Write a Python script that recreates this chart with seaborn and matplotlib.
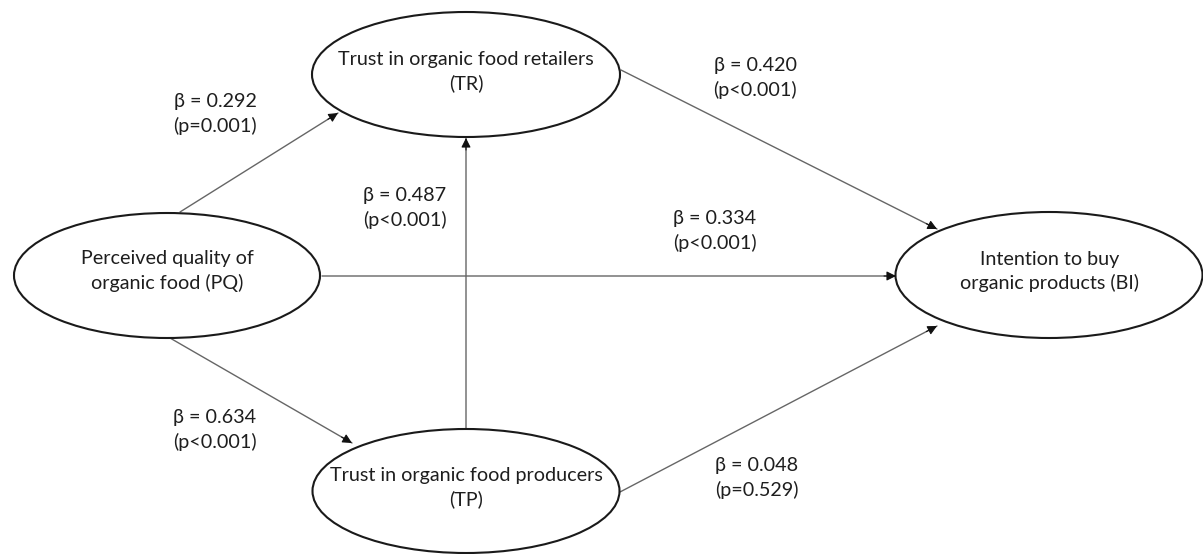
import matplotlib
matplotlib.use('Agg')
import matplotlib.pyplot as plt
from matplotlib.patches import Ellipse, FancyArrowPatch
import seaborn as sns

# node labels
node_ids = ['TR', 'PQ', 'BI', 'TP']
node_labels = ['Trust in organic food retailers\n(TR)',
               'Perceived quality of\norganic food (PQ)',
               'Intention to buy\norganic products (BI)',
               'Trust in organic food producers\n(TP)']

# paths: source -> target, beta, p-value text
edge_src = ['PQ', 'TP', 'PQ', 'TR', 'PQ', 'TP']
edge_dst = ['TR', 'TR', 'BI', 'BI', 'TP', 'BI']
betas = ['0.292', '0.487', '0.334', '0.420', '0.634', '0.048']
pvals = ['p=0.001', 'p<0.001', 'p<0.001', 'p<0.001', 'p<0.001', 'p=0.529']

# layout (pixel coordinates)
node_xy = {'TR': (466, 74.5), 'PQ': (167, 275.5), 'BI': (1049, 275), 'TP': (466, 491)}
node_wh = {'TR': (308, 125), 'PQ': (306, 125), 'BI': (307, 126), 'TP': (307, 124)}
text_xy = {'TR': (466, 71.5), 'PQ': (167, 271), 'BI': (1050, 271.5), 'TP': (466, 487.5)}
edge_start = [(180, 212), (466, 430), (322, 276), (621, 70), (170, 338), (620, 492)]
edge_end = [(338, 113), (466, 138), (896, 276), (937, 229), (352, 443), (937, 326)]
label_xy = [(215, 114), (405, 208), (715, 231), (755, 78), (215, 430), (757, 478)]

sns.set_theme(style='white')
plt.rcParams['font.family'] = ['Lato', 'DejaVu Sans']

fig = plt.figure(figsize=(12.03, 5.54), dpi=100)
ax = fig.add_axes([0, 0, 1, 1])
ax.set_xlim(0, 1203)
ax.set_ylim(554, 0)
ax.axis('off')

for nid, lab in zip(node_ids, node_labels):
    w, h = node_wh[nid]
    ax.add_patch(Ellipse(node_xy[nid], w, h, facecolor='white', edgecolor='#1a1a1a', lw=1.5, zorder=3))
    ax.text(*text_xy[nid], lab, ha='center', va='center', fontsize=14.2,
            color='#1e1e1e', linespacing=1.4, zorder=4)

for s, e, b, p, lxy in zip(edge_start, edge_end, betas, pvals, label_xy):
    # grey shaft, black head
    ax.add_patch(FancyArrowPatch(s, e, arrowstyle='-', color='#666666', lw=1.0,
                                 shrinkA=0, shrinkB=0, zorder=2))
    dx, dy = e[0] - s[0], e[1] - s[1]
    n = (dx ** 2 + dy ** 2) ** 0.5
    hs = (e[0] - 12 * dx / n, e[1] - 12 * dy / n)
    ax.add_patch(FancyArrowPatch(hs, e, arrowstyle='-|>', mutation_scale=14,
                                 color='#111111', lw=0.8, shrinkA=0, shrinkB=0, zorder=5))
    ax.text(lxy[0], lxy[1], '\u03b2 = ' + b + '\n(' + p + ')', ha='center', va='center',
            fontsize=14.2, color='#1e1e1e', linespacing=1.4)

fig.savefig('out.png', dpi=100, facecolor='white')
